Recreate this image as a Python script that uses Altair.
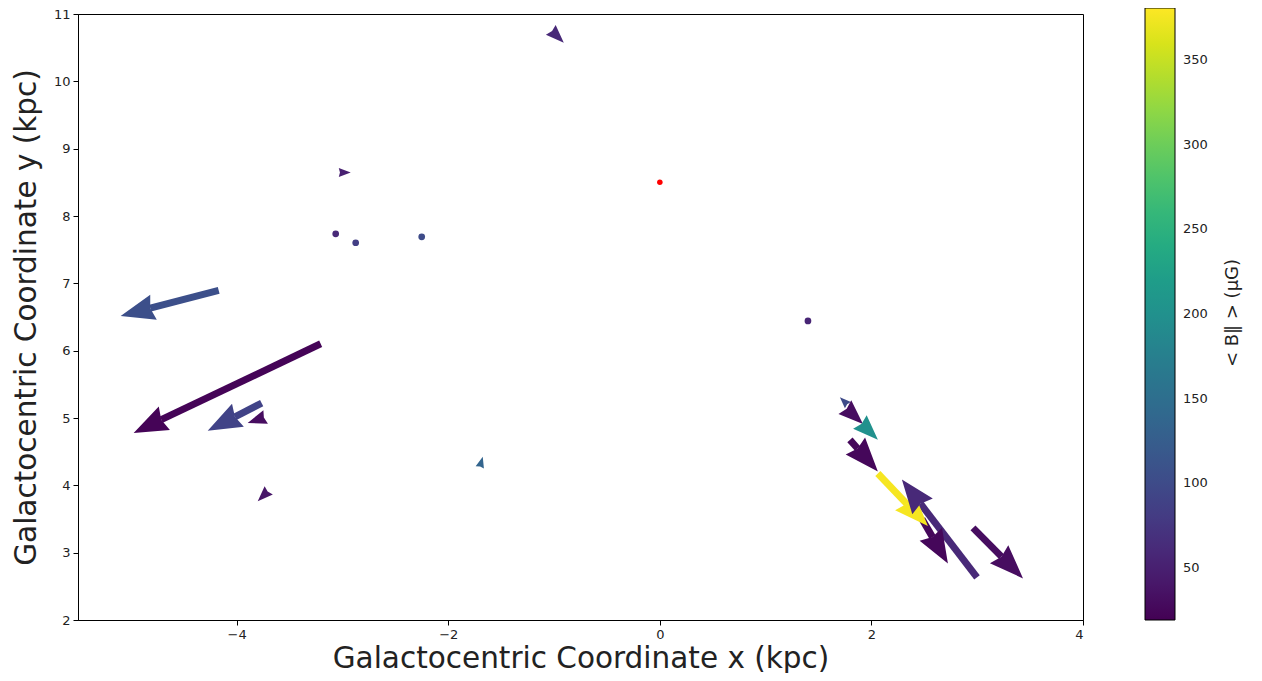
import altair as alt
import pandas as pd
import numpy as np

# Arrow tails (kpc), vector components (kpc) and mean parallel field <B||> (uG)
arrow_x = [-4.170, -3.206, -3.764, -3.726, -3.697, -1.031, -3.035, -1.702,
           1.778, 1.749, 1.891, 1.797, 2.061, 2.998, 2.478, 2.960]
arrow_y = [6.897, 6.103, 5.221, 5.015, 3.926, 10.765, 8.647, 4.265,
           5.191, 5.162, 4.941, 4.676, 4.176, 2.632, 3.500, 3.368]
arrow_u = [-0.927, -1.768, -0.510, -0.170, -0.104, 0.123, 0.113, 0.028,
           -0.076, 0.171, 0.170, 0.264, 0.473, -0.710, 0.245, 0.473]
arrow_v = [-0.382, -1.324, -0.412, -0.089, -0.161, -0.191, 0.000, 0.161,
           0.118, -0.250, -0.265, -0.470, -0.779, 1.456, -0.662, -0.750]
arrow_b = [105, 22, 90, 30, 40, 60, 50, 135,
           100, 30, 200, 25, 377, 60, 25, 30]

# Zero-length vectors (drawn as dots)
dot_x = [-3.064, -2.875, -2.251, 1.400]
dot_y = [7.735, 7.603, 7.691, 6.441]
dot_b = [60, 85, 100, 55]

# Sun position
sun_x = [0.0]
sun_y = [8.5]

colorbar_title = ["< B‖ >  (μG)"]
colorbar_ticks = [50, 100, 150, 200, 250, 300, 350]

XDOM = [-5.5, 4]
YDOM = [2, 11]
W, H = 1005, 606
SX = W / (XDOM[1] - XDOM[0])
SY = H / (YDOM[1] - YDOM[0])
HEAD = 34.0

df = pd.DataFrame({"x": arrow_x, "y": arrow_y, "u": arrow_u, "v": arrow_v, "B": arrow_b})
df["xt"] = df.x + df.u
df["yt"] = df.y + df.v
dxp = df.u * SX
dyp = -df.v * SY
L = np.sqrt(dxp ** 2 + dyp ** 2)
df["ang"] = (np.degrees(np.arctan2(dyp, dxp)) + 360) % 360
hl = np.minimum(HEAD, L)
df["hs"] = hl ** 2
frac = np.clip((L - 0.9 * hl) / L, 0, 1)
df["xe"] = df.x + df.u * frac
df["ye"] = df.y + df.v * frac
df["order"] = range(len(df))
shafts = df[L > HEAD].copy()

dots = pd.DataFrame({"x": dot_x, "y": dot_y, "B": dot_b})
sun = pd.DataFrame({"x": sun_x, "y": sun_y})

xscale = alt.Scale(domain=XDOM, nice=False, zero=False)
yscale = alt.Scale(domain=YDOM, nice=False, zero=False)
xaxis = alt.Axis(values=[-4, -2, 0, 2, 4], title="Galactocentric Coordinate x (kpc)",
                 grid=False, titlePadding=3)
yaxis = alt.Axis(values=list(range(2, 12)), title="Galactocentric Coordinate y (kpc)",
                 grid=False, titlePadding=12)

cscale = alt.Scale(scheme="viridis", domain=[19, 381])
color_legend = alt.Color(
    "B:Q",
    scale=cscale,
    legend=alt.Legend(
        orient="none", legendX=1067, legendY=-6, direction="vertical",
        gradientLength=612, gradientThickness=30,
        values=colorbar_ticks,
        labelFontSize=13, labelOffset=8, labelFont="DejaVu Sans", labelColor="#222",
        title=None,
        gradientStrokeColor="black", gradientStrokeWidth=1, padding=0,
    ),
)
color_plain = alt.Color("B:Q", scale=cscale, legend=None)

shaft_layer = alt.Chart(shafts).mark_rule(strokeWidth=7, strokeCap="butt").encode(
    x=alt.X("x:Q", scale=xscale, axis=xaxis),
    y=alt.Y("y:Q", scale=yscale, axis=yaxis),
    x2="xe:Q",
    y2="ye:Q",
    color=color_plain,
    order="order:Q",
)

head_layer = alt.Chart(df).mark_point(
    shape="M0,0 L-2,-0.76 L-1.8,0 L-2,0.76 Z", filled=True, opacity=1, strokeWidth=0
).encode(
    x=alt.X("xt:Q", scale=xscale, axis=xaxis),
    y=alt.Y("yt:Q", scale=yscale, axis=yaxis),
    size=alt.Size("hs:Q", scale=None),
    angle=alt.Angle("ang:Q", scale=None),
    color=color_plain,
    order="order:Q",
)

dot_layer = alt.Chart(dots).mark_circle(size=45, opacity=1).encode(
    x=alt.X("x:Q", scale=xscale, axis=xaxis),
    y=alt.Y("y:Q", scale=yscale, axis=yaxis),
    color=color_legend,
)

sun_layer = alt.Chart(sun).mark_circle(size=30, opacity=1, color="red").encode(
    x=alt.X("x:Q", scale=xscale, axis=xaxis),
    y=alt.Y("y:Q", scale=yscale, axis=yaxis),
)

cbar_title = alt.Chart(pd.DataFrame({"t": colorbar_title})).mark_text(
    angle=270, fontSize=18, font="DejaVu Sans", color="#222", baseline="middle", align="center"
).encode(
    x=alt.value(1233 - 78), y=alt.value(313 - 14), text="t:N"
)

chart = alt.layer(dot_layer, shaft_layer, head_layer, sun_layer, cbar_title).resolve_scale(
    color="independent"
).resolve_legend(
    color="independent"
).properties(
    width=W, height=H,
    autosize=alt.AutoSizeParams(type="none"),
    padding={"left": 70, "top": 6, "right": 171, "bottom": 53},
    background="white",
).configure_view(
    stroke="black", strokeWidth=1
).configure_axis(
    labelFont="DejaVu Sans", labelFontSize=13, labelColor="#222",
    titleFont="DejaVu Sans", titleFontSize=29.5, titleFontWeight="normal", titleColor="#222",
    tickColor="black", domainColor="black", tickSize=5, labelPadding=3,
    domain=True,
)

chart.save("out.html", embed_options={"renderer": "svg", "actions": False})
